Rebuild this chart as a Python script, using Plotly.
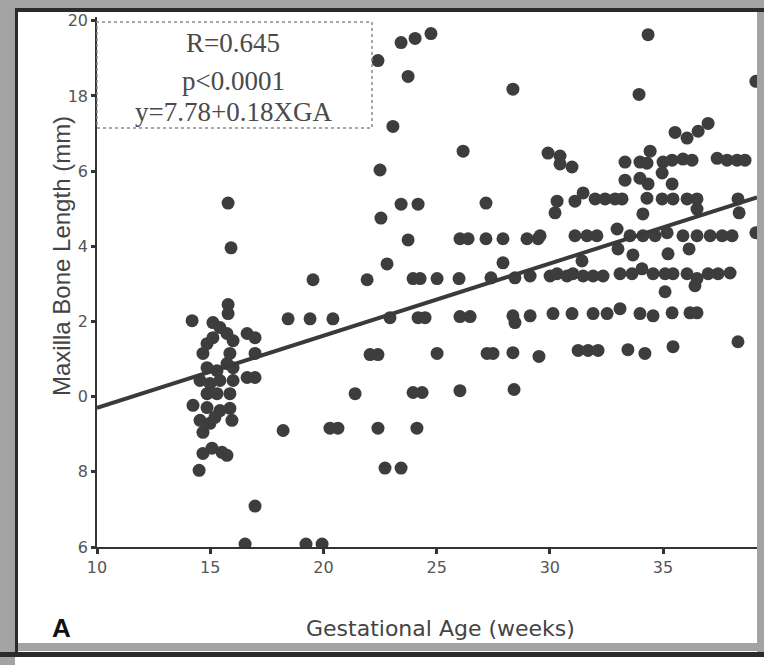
import plotly.graph_objects as go

# ---- data ----
ga = [
    15.79, 15.92, 15.79, 15.79, 14.20, 15.12, 15.43, 15.12, 14.86, 14.68,
    15.74, 16.01, 15.87, 16.63, 16.98, 16.98, 14.86, 15.30, 15.74, 16.01,
    14.55, 14.99, 15.43, 16.01, 16.63, 16.98, 14.86, 15.30, 15.87, 14.24,
    14.86, 15.43, 15.87, 14.55, 14.99, 15.96, 14.68, 15.21, 14.68, 15.08,
    15.52, 15.74, 14.51, 16.98, 16.54,
    18.22, 19.23, 19.94, 18.44, 19.41, 20.42, 19.54, 20.29, 20.64, 21.40, 21.93,
    22.41, 23.43, 24.05, 24.75, 23.74, 28.37, 23.07, 26.17, 22.50, 23.43,
    24.18, 27.18, 22.54, 23.74, 26.03, 26.39, 27.18, 27.93, 28.99, 29.48,
    27.93, 22.81, 23.96, 24.27, 25.02, 25.99, 27.40, 28.46, 29.13, 22.94,
    24.18, 24.49, 26.03, 26.48, 28.37, 28.46, 29.13, 22.06, 22.41, 25.02,
    27.23, 27.49, 28.37, 29.52, 23.96, 24.36, 26.03, 28.42, 22.41, 24.13,
    22.72, 23.43,
    29.92, 30.45, 30.45, 30.98, 34.34, 39.10, 33.94, 35.53, 36.06, 36.55,
    36.99, 33.32, 33.98, 34.43, 34.29, 35.00, 35.40, 35.88, 36.28, 37.39,
    37.83, 38.27, 38.62, 33.32, 33.98, 34.34, 34.96, 35.40, 30.32, 30.23,
    31.11, 31.47, 32.00, 32.44, 32.88, 33.19, 34.29, 34.11, 34.96, 35.44,
    36.06, 36.50, 36.50, 38.31, 38.36, 39.10, 29.57, 31.11, 31.64, 32.08,
    32.97, 33.01, 33.54, 34.11, 34.65, 35.18, 35.88, 36.50, 37.08, 37.61,
    38.05, 31.42, 33.67, 35.22, 36.15, 30.01, 30.32, 30.76, 31.02, 31.47,
    31.91, 32.35, 33.10, 33.63, 34.07, 34.56, 35.09, 35.44, 36.06, 36.50,
    36.99, 37.43, 37.96, 35.09, 36.41, 30.14, 30.98, 31.91, 32.53, 33.10,
    33.98, 34.56, 35.40, 36.19, 36.50, 31.25, 31.69, 32.13, 33.45, 34.20,
    35.44, 38.31,
]
maxilla_mm = [
    15.15, 13.96, 12.45, 12.21, 12.02, 11.97, 11.84, 11.57, 11.41, 11.15,
    11.68, 11.49, 11.15, 11.68, 11.57, 11.15, 10.77, 10.69, 10.88, 10.77,
    10.43, 10.35, 10.43, 10.43, 10.51, 10.51, 10.08, 10.08, 10.08, 9.77,
    9.71, 9.63, 9.69, 9.37, 9.29, 9.37, 9.05, 9.45, 8.49, 8.63,
    8.52, 8.44, 8.04, 7.09, 6.08,
    9.10, 6.08, 6.08, 12.07, 12.07, 12.07, 13.11, 9.16, 9.16, 10.08, 13.11,
    18.94, 19.42, 19.53, 19.66, 18.52, 18.18, 17.19, 16.53, 16.03, 15.12,
    15.12, 15.15, 14.75, 14.17, 14.20, 14.20, 14.20, 14.20, 14.20, 14.20,
    13.56, 13.53, 13.14, 13.14, 13.14, 13.14, 13.16, 13.16, 13.21, 12.10,
    12.10, 12.10, 12.13, 12.13, 12.15, 11.97, 12.15, 11.12, 11.12, 11.15,
    11.15, 11.15, 11.17, 11.07, 10.11, 10.11, 10.16, 10.19, 9.16, 9.16,
    8.10, 8.10,
    16.48, 16.40, 16.19, 16.11, 19.63, 18.39, 18.04, 17.03, 16.88, 17.06,
    17.27, 16.24, 16.24, 16.53, 16.21, 16.24, 16.29, 16.32, 16.29, 16.34,
    16.29, 16.29, 16.29, 15.76, 15.81, 15.66, 15.95, 15.66, 15.20, 14.89,
    15.20, 15.42, 15.26, 15.26, 15.26, 15.26, 15.28, 14.86, 15.26, 15.26,
    15.26, 15.26, 14.99, 15.26, 14.89, 14.36, 14.28, 14.28, 14.28, 14.28,
    14.46, 13.93, 14.28, 14.28, 14.28, 14.36, 14.28, 14.28, 14.28, 14.28,
    14.28, 13.61, 13.77, 13.80, 13.93, 13.21, 13.27, 13.21, 13.27, 13.21,
    13.21, 13.21, 13.27, 13.27, 13.40, 13.27, 13.27, 13.27, 13.27, 13.14,
    13.27, 13.27, 13.29, 12.79, 12.95, 12.21, 12.21, 12.21, 12.21, 12.34,
    12.21, 12.15, 12.23, 12.23, 12.23, 11.23, 11.23, 11.23, 11.25, 11.15,
    11.33, 11.46,
]
fit_x = [10.0, 39.15]
fit_y = [9.70, 15.30]

x_tickvals = [10, 15, 20, 25, 30, 35]
y_tickvals = [6, 8, 10, 12, 14, 16, 18, 20]
y_ticktext = ["6", "8", "0", "2", "4", "6", "18", "20"]

stats_lines = ["R=0.645", "p<0.0001", "y=7.78+0.18XGA"]

# ---- layout geometry (pixels) ----
W, H = 764, 665
L, R, T, B = 97, 7, 17, 118
PW, PH = W - L - R, H - T - B


def px(x):
    return (x - L) / PW


def py(y):
    return (H - B - y) / PH


fig = go.Figure()
fig.add_trace(go.Scatter(
    x=ga, y=maxilla_mm, mode="markers",
    marker=dict(size=13, color="#3d3d3d", line=dict(width=0)),
    showlegend=False, hoverinfo="x+y",
))
fig.add_trace(go.Scatter(
    x=fit_x, y=fit_y, mode="lines",
    line=dict(color="#3a3a3a", width=4),
    showlegend=False, hoverinfo="skip",
))

tick_font = dict(family="DejaVu Sans", size=16, color="#555555")
fig.update_xaxes(
    range=[10, 39.15], tickvals=x_tickvals, ticks="outside", ticklen=5,
    tickwidth=3, tickcolor="#333333", showline=True, linecolor="#333333",
    linewidth=1.5, showgrid=False, zeroline=False, tickfont=tick_font,
)
fig.update_yaxes(
    range=[6, 20.1], tickvals=y_tickvals, ticktext=y_ticktext,
    ticks="outside", ticklen=4, tickwidth=3, tickcolor="#333333",
    showline=True, linecolor="#333333", linewidth=1.5, showgrid=False,
    zeroline=False, tickfont=tick_font,
)

annotations = [
    dict(text="Gestational Age (weeks)", x=px(440), y=py(628), xref="paper",
         yref="paper", showarrow=False, xanchor="center", yanchor="middle",
         font=dict(family="DejaVu Sans", size=22, color="#444444")),
    dict(text="Maxilla Bone Length (mm)", x=px(61), y=py(256), xref="paper",
         yref="paper", showarrow=False, textangle=-90, xanchor="center",
         yanchor="middle",
         font=dict(family="Liberation Sans", size=24, color="#444444")),
    dict(text="<b>A</b>", x=px(61), y=py(628), xref="paper", yref="paper",
         showarrow=False, xanchor="center", yanchor="middle",
         font=dict(family="Liberation Sans", size=26, color="#111111")),
]
for txt, yy in zip(stats_lines, [43, 81, 112]):
    annotations.append(dict(
        text=txt, x=px(233), y=py(yy), xref="paper", yref="paper",
        showarrow=False, xanchor="center", yanchor="middle",
        font=dict(family="Liberation Serif", size=27, color="#4a4a4a")))

shapes = [
    # stats box (dotted)
    dict(type="rect", xref="paper", yref="paper", x0=px(97), x1=px(372),
         y0=py(128), y1=py(22), line=dict(color="#8a8a8a", width=1.5, dash="dot"),
         fillcolor="rgba(0,0,0,0)", layer="above"),
    # frame: gray bands
    dict(type="rect", xref="paper", yref="paper", x0=px(0), x1=px(15),
         y0=py(665), y1=py(0), fillcolor="#a3a3a3", line=dict(width=0)),
    dict(type="rect", xref="paper", yref="paper", x0=px(0), x1=px(764),
         y0=py(8), y1=py(0), fillcolor="#a3a3a3", line=dict(width=0)),
    dict(type="rect", xref="paper", yref="paper", x0=px(757), x1=px(764),
         y0=py(652), y1=py(0), fillcolor="#a3a3a3", line=dict(width=0)),
    dict(type="rect", xref="paper", yref="paper", x0=px(0), x1=px(764),
         y0=py(651), y1=py(643), fillcolor="#a3a3a3", line=dict(width=0)),
    # frame: dark lines
    dict(type="rect", xref="paper", yref="paper", x0=px(15), x1=px(18),
         y0=py(657), y1=py(8), fillcolor="#2b2b2b", line=dict(width=0)),
    dict(type="rect", xref="paper", yref="paper", x0=px(15), x1=px(764),
         y0=py(12), y1=py(8), fillcolor="#2b2b2b", line=dict(width=0)),
    dict(type="rect", xref="paper", yref="paper", x0=px(0), x1=px(764),
         y0=py(657), y1=py(652), fillcolor="#2b2b2b", line=dict(width=0)),
]

fig.update_layout(
    width=W, height=H, margin=dict(l=L, r=R, t=T, b=B),
    paper_bgcolor="white", plot_bgcolor="white",
    annotations=annotations, shapes=shapes, showlegend=False,
)

fig.write_html("out.html")
